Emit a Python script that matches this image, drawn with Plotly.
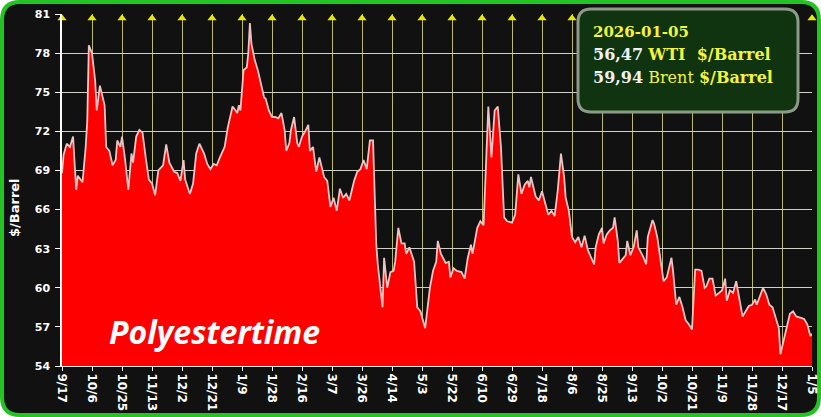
import pandas as pd
import plotly.graph_objects as go

# ---------------- data (WTI $/Barrel) ----------------
start_date = "2024-09-17"
day_offset = [0, 1, 3, 5, 7, 8, 9, 10, 13, 15, 16, 17, 19, 21, 22, 24, 27, 28, 30, 32,
              34, 35, 37, 38, 40, 42, 44, 45, 47, 49, 51, 53, 55, 57, 59, 61, 64, 66, 68, 71,
              73, 75, 77, 78, 81, 83, 85, 87, 90, 92, 94, 96, 98, 100, 103, 105, 108, 110, 111, 112,
              113, 115, 117, 118, 119, 120, 122, 124, 125, 128, 129, 131, 133, 135, 137, 139, 141, 142, 144, 145,
              147, 149, 150, 152, 154, 156, 157, 159, 161, 163, 166, 168, 170, 172, 174, 176, 178, 180, 182, 185,
              187, 189, 191, 193, 195, 197, 199, 200, 203, 204, 206, 208, 210, 211, 213, 215, 217, 218, 220, 223,
              225, 227, 230, 232, 233, 235, 237, 238, 240, 243, 245, 246, 248, 250, 253, 255, 257, 259, 260, 263,
              265, 267, 268, 270, 272, 274, 276, 278, 280, 282, 285, 287, 289, 291, 293, 295, 296, 297, 300, 302,
              304, 306, 308, 310, 312, 314, 315, 316, 318, 319, 321, 323, 325, 327, 329, 331, 333, 335, 337, 338,
              340, 342, 343, 345, 347, 349, 350, 352, 353, 355, 357, 358, 360, 362, 364, 365, 368, 370, 371, 374,
              375, 377, 379, 381, 383, 386, 387, 389, 391, 393, 395, 397, 399, 401, 403, 405, 407, 408, 410, 412,
              414, 416, 418, 420, 421, 423, 425, 427, 429, 431, 433, 435, 437, 439, 440, 442, 444, 446, 448, 450,
              452, 454, 455, 457, 459, 461, 463, 465, 468, 470, 472, 474, 475]
wti_price = [68.8, 70.2, 71.05, 70.8, 71.6, 69.8, 67.5, 68.6, 68.1, 70.8, 72.8, 78.6, 78.0, 75.9, 73.6, 75.5, 74.0, 70.8, 70.5, 69.4,
             69.8, 71.3, 70.8, 71.6, 69.8, 67.5, 70.3, 69.6, 71.6, 72.1, 71.9, 70.0, 68.3, 68.0, 67.1, 69.0, 69.4, 71.0, 69.6, 68.9,
             68.8, 68.2, 69.8, 68.3, 67.2, 68.0, 70.3, 71.05, 70.3, 69.5, 69.1, 69.5, 69.4, 70.0, 70.8, 72.3, 73.9, 73.6, 73.4, 74.0,
             73.6, 76.7, 76.9, 78.0, 80.3, 78.7, 77.5, 76.7, 76.2, 74.6, 74.5, 73.6, 73.1, 73.1, 73.0, 73.4, 72.1, 70.5, 71.1, 72.1,
             73.1, 71.1, 70.8, 71.6, 72.0, 72.5, 70.5, 70.8, 68.9, 70.0, 68.5, 68.2, 66.2, 66.9, 65.9, 67.6, 66.9, 67.2, 66.7, 68.2,
             68.9, 69.1, 69.8, 69.1, 71.3, 71.3, 63.4, 61.8, 58.5, 62.3, 60.0, 61.2, 61.3, 62.0, 64.6, 63.4, 63.4, 62.6, 63.1, 62.0,
             58.5, 58.2, 56.9, 59.0, 60.0, 61.3, 62.0, 63.6, 62.6, 61.9, 62.0, 60.8, 61.5, 61.3, 61.2, 60.7, 62.3, 63.3, 62.6, 64.6,
             65.1, 64.8, 68.2, 73.9, 70.0, 73.6, 73.9, 70.8, 65.4, 65.1, 65.0, 65.6, 68.7, 67.2, 67.9, 68.2, 67.7, 68.5, 67.0, 66.7,
             67.4, 66.4, 65.6, 65.9, 65.5, 67.5, 69.0, 70.3, 68.5, 66.9, 65.9, 63.9, 63.5, 63.9, 63.1, 64.0, 62.9, 62.3, 61.8, 63.1,
             64.1, 64.6, 63.4, 64.1, 64.4, 64.6, 65.4, 63.6, 61.9, 62.2, 62.5, 63.6, 62.5, 63.1, 64.4, 63.1, 62.4, 61.8, 63.9, 65.2,
             64.9, 63.9, 62.3, 60.5, 60.8, 62.3, 61.3, 58.7, 59.3, 58.5, 57.5, 57.2, 56.8, 61.4, 61.4, 61.3, 60.0, 60.1, 60.7, 60.7,
             59.4, 59.6, 59.8, 60.7, 59.0, 59.8, 59.6, 60.5, 59.0, 57.8, 58.2, 58.6, 58.7, 59.1, 58.7, 59.4, 60.0, 59.5, 58.7, 58.5,
             57.7, 56.9, 54.9, 55.9, 56.9, 58.0, 58.2, 57.8, 57.7, 57.6, 57.2, 56.3, 56.47]

tick_dates = ["2024-09-17", "2024-10-06", "2024-10-25", "2024-11-13", "2024-12-02", "2024-12-21",
              "2025-01-09", "2025-01-28", "2025-02-16", "2025-03-07", "2025-03-26", "2025-04-14",
              "2025-05-03", "2025-05-22", "2025-06-10", "2025-06-29", "2025-07-18", "2025-08-06",
              "2025-08-25", "2025-09-13", "2025-10-02", "2025-10-21", "2025-11-09", "2025-11-28",
              "2025-12-17", "2026-01-05"]
tick_labels = ["9/17", "10/6", "10/25", "11/13", "12/2", "12/21", "1/9", "1/28", "2/16", "3/7",
               "3/26", "4/14", "5/3", "5/22", "6/10", "6/29", "7/18", "8/6", "8/25", "9/13",
               "10/2", "10/21", "11/9", "11/28", "12/17", "1/5"]
y_ticks = [54, 57, 60, 63, 66, 69, 72, 75, 78, 81]

info_date = "2026-01-05"
wti_last = "56,47"
brent_last = "59,94"

dates = pd.Timestamp(start_date) + pd.to_timedelta(day_offset, unit="D")

# ---------------- layout geometry ----------------
W, H = 821, 417
ML, MR, MT, MB = 62, 9, 14, 51
PW, PH = W - ML - MR, H - MT - MB


def px(xp):
    return (xp - ML) / PW


def py(yp):
    return (H - MB - yp) / PH


def rounded_path(x0, y0, x1, y1, r):
    pts = [("M", [(x0 + r, y0)]), ("L", [(x1 - r, y0)]), ("Q", [(x1, y0), (x1, y0 + r)]),
           ("L", [(x1, y1 - r)]), ("Q", [(x1, y1), (x1 - r, y1)]), ("L", [(x0 + r, y1)]),
           ("Q", [(x0, y1), (x0, y1 - r)]), ("L", [(x0, y0 + r)]), ("Q", [(x0, y0), (x0 + r, y0)])]
    s = ""
    for cmd, ps in pts:
        s += cmd + " " + " ".join(f"{px(a):.5f},{py(b):.5f}" for a, b in ps) + " "
    return s + "Z"


fig = go.Figure()

fig.add_trace(go.Scatter(
    x=dates, y=wti_price, mode="lines",
    line=dict(color="rgb(236,196,196)", width=1.8),
    fill="tozeroy", fillcolor="#ff0000",
    hoverinfo="skip", showlegend=False,
))

y_max = max(y_ticks)
fig.add_trace(go.Scatter(
    x=tick_dates, y=[y_max - 0.33] * len(tick_dates), mode="markers",
    marker=dict(symbol="triangle-up", size=8, color="#e8e800"),
    cliponaxis=False, hoverinfo="skip", showlegend=False,
))

shapes = [
    dict(type="path", xref="paper", yref="paper", layer="below",
         path=rounded_path(2, 2, W - 2, H - 2, 18),
         fillcolor="#111111", line=dict(color="#22c322", width=4)),
    dict(type="path", xref="paper", yref="paper", layer="above",
         path=rounded_path(578, 9, 798, 112, 13),
         fillcolor="#0f340f", line=dict(color="#8c9a88", width=3)),
]

xfont = dict(family="DejaVu Sans", size=12, color="white", weight="bold")
yfont = dict(family="DejaVu Sans", size=11, color="white", weight="bold")
sfont = "DejaVu Serif"
annotations = [
    dict(xref="paper", yref="paper", x=px(591), y=py(32), xanchor="left", yanchor="middle",
         showarrow=False, text=f"<b>{info_date}</b>",
         font=dict(family=sfont, size=15, color="#f4f43a")),
    dict(xref="paper", yref="paper", x=px(591), y=py(55), xanchor="left", yanchor="middle",
         showarrow=False,
         text=f"<b>{wti_last}</b> <span style='color:#f4f43a'><b>WTI&nbsp; $/Barrel</b></span>",
         font=dict(family=sfont, size=16, color="#f0f0f0")),
    dict(xref="paper", yref="paper", x=px(591), y=py(78), xanchor="left", yanchor="middle",
         showarrow=False,
         text=f"<b>{brent_last}</b> <span style='color:#f4f43a'>Brent <b>$/Barrel</b></span>",
         font=dict(family=sfont, size=16, color="#f0f0f0")),
    dict(xref="paper", yref="paper", x=px(107), y=py(331), xanchor="left", yanchor="middle",
         showarrow=False, text="Polyestertime",
         font=dict(family="Open Sans", size=32, color="white", weight="bold", style="italic")),
    dict(xref="paper", yref="paper", x=px(14), y=py(208), xanchor="center", yanchor="middle",
         showarrow=False, text="$/Barrel", textangle=-90,
         font=dict(family="DejaVu Sans", size=13, color="white", weight="bold")),
]

fig.update_layout(
    width=W, height=H,
    margin=dict(l=ML, r=MR, t=MT, b=MB, pad=0, autoexpand=False),
    paper_bgcolor="white", plot_bgcolor="rgba(0,0,0,0)",
    shapes=shapes, annotations=annotations,
    xaxis=dict(
        type="date", range=[tick_dates[0], tick_dates[-1]],
        tickmode="array", tickvals=tick_dates, ticktext=tick_labels,
        tickangle=90, tickfont=xfont,
        ticks="outside", ticklen=4, tickcolor="white",
        showgrid=True, gridcolor="#b9b972", gridwidth=1,
        showline=True, linecolor="#e6e6e6", linewidth=1,
        zeroline=False, fixedrange=True, automargin=False,
    ),
    yaxis=dict(
        range=[y_ticks[0], y_ticks[-1]],
        tickmode="array", tickvals=y_ticks,
        tickfont=yfont, ticks="outside", ticklen=5, tickcolor="white",
        ticklabelstandoff=3,
        showgrid=True, gridcolor="#cfcfc6", gridwidth=1,
        showline=True, linecolor="white", linewidth=1.5,
        zeroline=False, fixedrange=True, automargin=False,
    ),
)

fig.write_html("out.html")
